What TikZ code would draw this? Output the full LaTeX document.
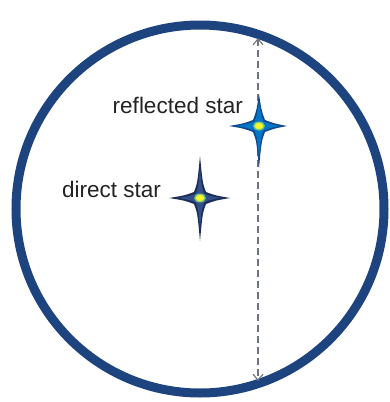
\documentclass[tikz,border=0pt]{standalone}
\usepackage{fontspec}
\setmainfont{Liberation Sans}
\usetikzlibrary{arrows.meta}
\definecolor{ringblue}{RGB}{30,68,128}
\definecolor{refout}{RGB}{18,72,140}
\definecolor{refin}{RGB}{0,118,200}
\definecolor{dirout}{RGB}{28,45,88}
\definecolor{dirin}{RGB}{50,80,135}
\definecolor{coreyel}{RGB}{245,245,40}
\definecolor{halo}{RGB}{120,200,130}
\definecolor{txt}{RGB}{35,35,35}
\definecolor{dashgray}{RGB}{110,115,128}
\tikzset{
  pics/fourstar/.style n args={5}{code={
    \path[pic actions] (0,-#1) .. controls (2.6,-15) .. (#5,-#5)
      .. controls (15,-2.6) .. (#2,0)
      .. controls (15,2.6) .. (#5,#5)
      .. controls (2.6,15) .. (0,#3)
      .. controls (-2.6,15) .. (-#5,#5)
      .. controls (-15,2.6) .. (-#4,0)
      .. controls (-15,-2.6) .. (-#5,-#5)
      .. controls (-2.6,-15) .. cycle;
  }},
  label text/.style={text=txt, font=\fontsize{22.5}{26}\selectfont, inner sep=0pt, anchor=base east},
  ring/.style={draw=ringblue, line width=9pt},
  axis arrow/.style={draw=dashgray, line width=1.1pt, dash pattern=on 7pt off 4pt,
    {Straight Barb[length=6pt,width=10pt]}-{Straight Barb[length=6pt,width=10pt]}},
}
\begin{document}
\begin{tikzpicture}[x=1pt,y=-1pt]
\useasboundingbox (0,0) rectangle (390,402);
\fill[white] (0,0) rectangle (390,402);
\draw[ring] (200,209) circle (184);
% dashed double arrow
\coordinate (atop) at (258,38);
\coordinate (abot) at (258,381);
\draw[axis arrow] (atop) -- (abot);
% reflected star
\coordinate (rs) at (259,126);
\pic[fill=refout] at (rs) {fourstar={32}{28}{42}{30}{6}};
\pic[fill=refin, scale=0.75] at (rs) {fourstar={32}{28}{42}{30}{6}};
\fill[halo] (rs) ellipse (6 and 4.5);
\fill[coreyel] (rs) ellipse (4.2 and 3.2);
% direct star
\coordinate (ds) at (200,198);
\pic[fill=dirout] at (ds) {fourstar={42}{30}{43}{31}{6}};
\pic[fill=dirin, scale=0.7] at (ds) {fourstar={42}{30}{43}{31}{6}};
\fill[halo] (ds) ellipse (6 and 4.5);
\fill[coreyel] (ds) ellipse (4.2 and 3.2);
% labels
\node[label text] (rlab) at (243,113) {reflected star};
\node[label text] (dlab) at (161,197) {direct star};
\end{tikzpicture}
\end{document}
